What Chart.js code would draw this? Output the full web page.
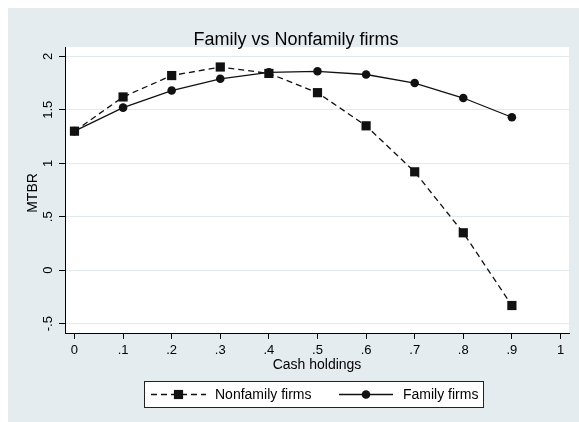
<!DOCTYPE html>
<html><head><meta charset="utf-8">
<script src="https://cdn.jsdelivr.net/npm/chart.js@4.4.1/dist/chart.umd.min.js"></script>
<style>html,body{margin:0;padding:0;background:#fff;}canvas{display:block;}</style>
</head><body>
<canvas id="c" width="579" height="422" style="width:579px;height:422px"></canvas>
<script>
// ---- data ----
const cashHoldings = [0, 0.1, 0.2, 0.3, 0.4, 0.5, 0.6, 0.7, 0.8, 0.9];
const nonfamilyMTBR = [1.30, 1.62, 1.82, 1.90, 1.84, 1.66, 1.35, 0.92, 0.35, -0.33];
const familyMTBR = [1.30, 1.52, 1.68, 1.79, 1.85, 1.86, 1.83, 1.75, 1.61, 1.43];
const xTickValues = [0, 0.1, 0.2, 0.3, 0.4, 0.5, 0.6, 0.7, 0.8, 0.9, 1];
const xTickLabels = ['0', '.1', '.2', '.3', '.4', '.5', '.6', '.7', '.8', '.9', '1'];
const yTickValues = [-0.5, 0, 0.5, 1, 1.5, 2];
const yTickLabels = ['-.5', '0', '.5', '1', '1.5', '2'];
const seriesNames = ['Nonfamily firms', 'Family firms'];
const chartTitle = 'Family vs Nonfamily firms';
const xTitle = 'Cash holdings';
const yTitle = 'MTBR';

const FONT = "'Liberation Sans', Arial, Helvetica, sans-serif";
const INK = '#111111';

function toPoints(ys) { return cashHoldings.map((x, i) => ({ x: x, y: ys[i] })); }

const decor = {
  id: 'decor',
  beforeDraw(chart) {
    const ctx = chart.ctx, a = chart.chartArea;
    ctx.save();
    ctx.fillStyle = '#ffffff';
    ctx.fillRect(0, 0, chart.width, chart.height);
    ctx.fillStyle = '#e5ecf0';
    ctx.fillRect(8, 8, chart.width - 8, chart.height - 8);
    ctx.fillStyle = '#ffffff';
    ctx.fillRect(a.left, a.top, a.right - a.left, a.bottom - a.top);
    ctx.restore();
  },
  afterDraw(chart) {
    const ctx = chart.ctx, a = chart.chartArea;
    const ys = chart.scales.y;
    ctx.save();
    ctx.fillStyle = '#000';
    // title
    ctx.font = '18px ' + FONT;
    ctx.textAlign = 'center';
    ctx.textBaseline = 'alphabetic';
    ctx.fillText(chartTitle, 296, 44.5);
    // y tick labels (rotated)
    ctx.font = '13px ' + FONT;
    yTickValues.forEach((v, i) => {
      const py = ys.getPixelForValue(v);
      ctx.save();
      ctx.translate(51.5, py);
      ctx.rotate(-Math.PI / 2);
      ctx.textAlign = 'center';
      ctx.textBaseline = 'alphabetic';
      ctx.fillText(yTickLabels[i], 0, 0);
      ctx.restore();
    });
    // y title
    ctx.font = '14px ' + FONT;
    ctx.save();
    ctx.translate(37, (a.top + a.bottom) / 2 + 3);
    ctx.rotate(-Math.PI / 2);
    ctx.textAlign = 'center';
    ctx.fillText(yTitle, 0, 0);
    ctx.restore();
    // x title
    ctx.textAlign = 'center';
    ctx.fillText(xTitle, (a.left + a.right) / 2, 368.5);
    // legend
    const bx = 144.5, by = 381.5, bw = 339, bh = 26;
    ctx.fillStyle = '#ffffff';
    ctx.fillRect(bx, by, bw, bh);
    ctx.strokeStyle = '#222';
    ctx.lineWidth = 1;
    ctx.strokeRect(bx, by, bw, bh);
    const ly = 394.5;
    chart.data.datasets.forEach((ds, i) => {
      const x0 = i === 0 ? 151 : 339, x1 = i === 0 ? 206 : 393;
      ctx.save();
      ctx.strokeStyle = ds.borderColor;
      ctx.lineWidth = ds.borderWidth;
      ctx.setLineDash(i === 0 ? [6, 4] : []);
      ctx.beginPath(); ctx.moveTo(x0, ly); ctx.lineTo(x1, ly); ctx.stroke();
      ctx.restore();
      const mx = (x0 + x1) / 2;
      ctx.fillStyle = ds.pointBackgroundColor;
      ctx.beginPath();
      if (ds.pointStyle === 'rect') {
        const s = Math.SQRT1_2 * ds.pointRadius;
        ctx.rect(mx - s, ly - s, 2 * s, 2 * s);
      } else {
        ctx.arc(mx, ly, ds.pointRadius, 0, Math.PI * 2);
      }
      ctx.fill();
      ctx.fillStyle = '#000';
      ctx.font = '14px ' + FONT;
      ctx.textAlign = 'left';
      ctx.textBaseline = 'alphabetic';
      ctx.fillText(ds.label, i === 0 ? 215 : 403, 399);
    });
    ctx.restore();
  }
};

new Chart(document.getElementById('c'), {
  type: 'line',
  data: {
    datasets: [
      {
        label: seriesNames[0],
        data: toPoints(nonfamilyMTBR),
        borderColor: INK, borderWidth: 1.3, borderDash: [6, 4],
        pointStyle: 'rect', pointRadius: 6.5, pointBackgroundColor: INK, pointBorderColor: INK, pointBorderWidth: 0,
        tension: 0, fill: false
      },
      {
        label: seriesNames[1],
        data: toPoints(familyMTBR),
        borderColor: INK, borderWidth: 1.3,
        pointStyle: 'circle', pointRadius: 4.3, pointBackgroundColor: INK, pointBorderColor: INK, pointBorderWidth: 0,
        tension: 0, fill: false
      }
    ]
  },
  options: {
    responsive: false,
    animation: false,
    devicePixelRatio: 1,
    layout: { padding: { left: 59, right: 10, top: 47, bottom: 49 } },
    plugins: { legend: { display: false }, title: { display: false }, tooltip: { enabled: false } },
    scales: {
      x: {
        type: 'linear',
        min: -0.0195, max: 1.0175,
        afterBuildTicks: (s) => { s.ticks = xTickValues.map(v => ({ value: v })); },
        afterFit: (s) => { s.height = 40; },
        ticks: {
          autoSkip: false, maxRotation: 0, minRotation: 0, padding: 4,
          color: '#000', font: { family: FONT, size: 13 },
          callback: (v, i) => xTickLabels[i]
        },
        grid: { drawOnChartArea: false, drawTicks: true, tickLength: 6, tickColor: '#000', tickWidth: 1 },
        border: { display: true, color: '#000', width: 1 }
      },
      y: {
        type: 'linear',
        min: -0.587, max: 2.087,
        afterBuildTicks: (s) => { s.ticks = yTickValues.map(v => ({ value: v })); },
        afterFit: (s) => { s.width = 6; },
        ticks: { display: false },
        grid: { color: '#e3eaee', lineWidth: 1, drawTicks: true, tickLength: 6, tickColor: '#000', tickWidth: 1 },
        border: { display: true, color: '#000', width: 1 }
      }
    }
  },
  plugins: [decor]
});
</script>
</body></html>
